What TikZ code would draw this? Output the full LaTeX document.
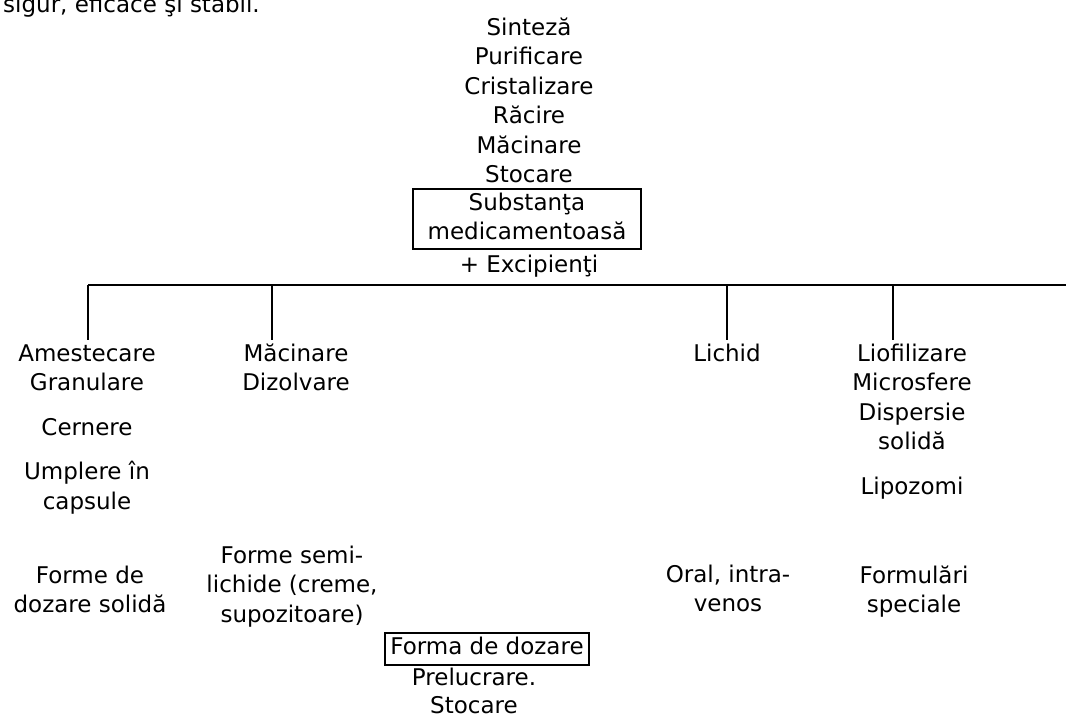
\documentclass[tikz,border=0pt]{standalone}
\usepackage{fontspec}
\setmainfont{DejaVu Sans}
\newcommand{\dfs}{\fontsize{23}{29.5}\selectfont}
\newcommand{\dfsb}{\fontsize{23}{28}\selectfont}
\begin{document}
\begin{tikzpicture}[x=1pt,y=-1pt,
  lbl/.style={inner sep=0pt, align=center, anchor=north, font=\dfs},
  bx/.style={draw, line width=1.7pt, inner sep=0pt, align=center, font=\dfs},
  conn/.style={line width=1.7pt}]
\path[use as bounding box] (0,0) rectangle (1066,718);
\clip (0,0) rectangle (1066,718);
% cut-off text at top
\node[inner sep=0pt, anchor=base west, font=\dfs] (sig) at (3,12) {sigur, eficace şi stabil.};
% top column
\node[lbl] (steps) at (529,14.35) {\strut Sinteză\\Purificare\\Cristalizare\\Răcire\\Măcinare\\Stocare};
\node[bx, minimum width=228, minimum height=60] (subst) at (527,219) {\strut Substanţa\\medicamentoasă\strut};
\node[inner sep=0pt, anchor=base, font=\dfs] (exc) at (529,272) {+ Excipienţi};
% bar
\coordinate (barL) at (88,285);
\coordinate (barR) at (1066,285);
\coordinate (b2) at (272,285);
\coordinate (b3) at (727,285);
\coordinate (b4) at (893,285);
% branches
\node[lbl] (c1) at (87,340.35) {\strut Amestecare\\Granulare\\[15pt]Cernere\\[15pt]Umplere în\\capsule};
\node[lbl] (c2) at (296,340.35) {\strut Măcinare\\Dizolvare};
\node[lbl] (c3) at (727,340.35) {\strut Lichid};
\node[lbl] (c4) at (912,340.35) {\strut Liofilizare\\Microsfere\\Dispersie\\solidă\\[15pt]Lipozomi};
% dosage forms
\node[lbl] (f1) at (90,562.35) {\strut Forme de\\dozare solidă};
\node[lbl] (f2) at (292,542.35) {\strut Forme semi-\\lichide (creme,\\supozitoare)};
\node[lbl] (f3) at (728,561.35) {\strut Oral, intra-\\venos};
\node[lbl] (f4) at (914,562.35) {\strut Formulări\\speciale};
% final
\node[bx, minimum width=204, minimum height=32] (forma) at (487,649) {\strut Forma de dozare};
\node[lbl, font=\dfsb] (prel) at (474,665.4) {\strut Prelucrare.\\Stocare};
% connectors
\draw[conn] (barL) -- (barR);
\draw[conn] (barL) -- (barL |- c1.north);
\draw[conn] (b2) -- (b2 |- c2.north);
\draw[conn] (b3) -- (b3 |- c3.north);
\draw[conn] (b4) -- (b4 |- c4.north);
\end{tikzpicture}
\end{document}
